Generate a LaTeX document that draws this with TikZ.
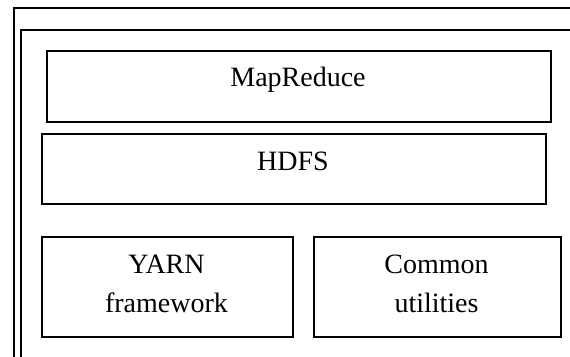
\documentclass[tikz,border=0pt]{standalone}
\usepackage{fontspec}
\setmainfont{Liberation Serif}
\begin{document}
\begin{tikzpicture}[x=1pt,y=-1pt,
  frame/.style={line width=1.6pt},
  box/.style={draw,line width=1.6pt,anchor=north west,inner sep=0pt},
  lbl/.style={anchor=base,inner sep=0pt,font=\fontsize{28}{39.5}\selectfont}]
\useasboundingbox (0,0) rectangle (570,356);
\coordinate (o1) at (572,8);
\coordinate (o2) at (14,8);
\coordinate (o3) at (14,358);
\coordinate (i1) at (572,30);
\coordinate (i2) at (21,30);
\coordinate (i3) at (21,358);
\draw[frame] (o1) -- (o2) -- (o3);
\draw[frame] (i1) -- (i2) -- (i3);
\node[box,minimum width=504pt,minimum height=71pt] (mr) at (46,50) {};
\node[box,minimum width=504pt,minimum height=70pt] (hdfs) at (41,133) {};
\node[box,minimum width=251pt,minimum height=100pt] (yarn) at (41,236) {};
\node[box,minimum width=247pt,minimum height=100pt] (common) at (313,236) {};
\node[lbl] (mrt) at (298,86) {MapReduce};
\node[lbl] (hdfst) at (293,170) {HDFS};
\node[lbl] (yarnt1) at (166.5,273) {YARN};
\node[lbl] (yarnt2) at (166.5,312.5) {framework};
\node[lbl] (comt1) at (436.5,273) {Common};
\node[lbl] (comt2) at (436.5,312.5) {utilities};
\end{tikzpicture}
\end{document}
